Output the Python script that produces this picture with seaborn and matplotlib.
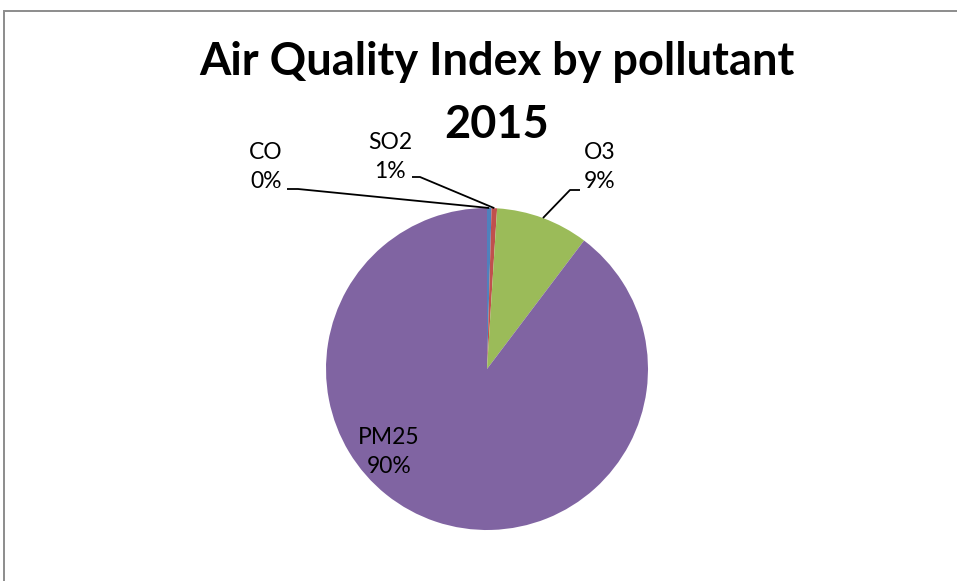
import numpy as np
import matplotlib
matplotlib.use("Agg")
import matplotlib.pyplot as plt
from matplotlib.patches import Rectangle
import seaborn as sns

# data
pollutants = ["CO", "SO2", "O3", "PM25"]
shares = [0.45, 0.55, 9.3, 89.7]
colors = ["#4F81BD", "#C0504D", "#9BBB59", "#8064A2"]
title_lines = ["Air Quality Index by pollutant", "2015"]

sns.set_theme(style="white")
plt.rcParams["font.family"] = ["Lato", "DejaVu Sans"]

W, H = 957, 581
fig = plt.figure(figsize=(W / 100, H / 100), dpi=100)
ax = fig.add_axes([0, 0, 1, 1])

# work in pixel units, y measured upward
cx, cy, r = 487, H - 369, 161
wedges, _ = ax.pie(shares, colors=sns.color_palette(colors), startangle=90,
                   counterclock=False, center=(cx, cy), radius=r,
                   wedgeprops=dict(edgecolor="none", linewidth=0))
ax.set_xlim(0, W)
ax.set_ylim(0, H)
ax.set_aspect("equal")
ax.axis("off")

# chart frame (Excel style, runs off right/bottom)
ax.add_patch(Rectangle((3.5, -20), W + 40, H - 10 + 20 - 0.5, fill=False,
                       edgecolor="#8c8c8c", linewidth=1.4))

# title, one text per line so each line sits where the reference has it
for line, ty in zip(title_lines, [62, 125]):
    ax.text(497, H - ty, line, ha="center", va="center", fontsize=32.5,
            fontweight="bold", color="black")

# label layout: text centre, elbow start, elbow end (pixel, y from top)
label_pos = {
    "CO": ((266, 167), (287, 189), (298, 189)),
    "SO2": ((390, 157), (412, 177), (420, 177)),
    "O3": ((600, 167), (580, 190), (570, 190)),
    "PM25": ((389, 452), None, None),
}

total = sum(shares)
for w, name, val in zip(wedges, pollutants, shares):
    (tx, ty), p0, p1 = label_pos[name]
    pct = f"{val / total * 100:.0f}%"
    ax.text(tx, H - ty, f"{name}\n{pct}", ha="center", va="center",
            fontsize=16.5, linespacing=1.45, color="black")
    if p0 is None:
        continue
    ang = np.deg2rad((w.theta1 + w.theta2) / 2)
    ex, ey = cx + r * np.cos(ang), cy + r * np.sin(ang)
    ax.plot([p0[0], p1[0], ex], [H - p0[1], H - p1[1], ey], color="black",
            linewidth=1.3, solid_capstyle="butt")

fig.savefig("out.png", dpi=100)
